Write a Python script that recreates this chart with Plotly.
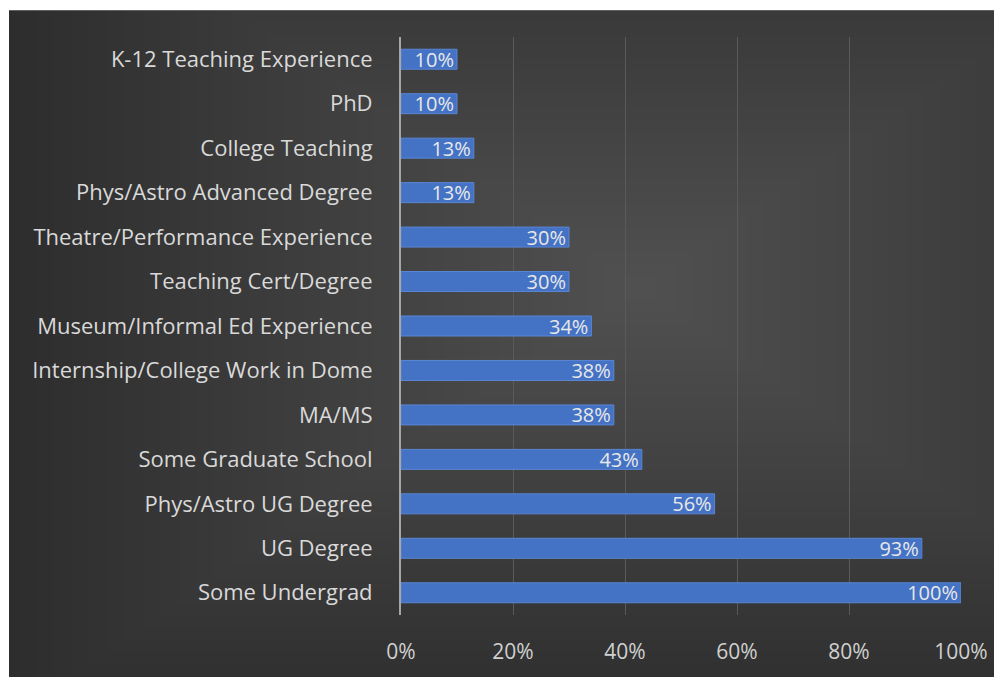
import plotly.graph_objects as go

categories = [
    "K-12 Teaching Experience",
    "PhD",
    "College Teaching",
    "Phys/Astro Advanced Degree",
    "Theatre/Performance Experience",
    "Teaching Cert/Degree",
    "Museum/Informal Ed Experience",
    "Internship/College Work in Dome",
    "MA/MS",
    "Some Graduate School",
    "Phys/Astro UG Degree",
    "UG Degree",
    "Some Undergrad",
]
values = [0.10, 0.10, 0.13, 0.13, 0.30, 0.30, 0.34, 0.38, 0.38, 0.43, 0.56, 0.93, 1.00]
tick_vals = [0, 0.2, 0.4, 0.6, 0.8, 1.0]
tick_text = ["0%", "20%", "40%", "60%", "80%", "100%"]

OFF = 8  # page body margin
W, H = 1002 - OFF, 677 - OFF
L, R, T, B = 401 - OFF, 1002 - 961, 37 - OFF, 677 - 620
pw, ph = W - L - R, H - T - B

def px_to_paper(x, y):
    # x, y given in reference screenshot pixels
    x -= OFF
    y -= OFF
    return (x - L) / pw, (H - B - y) / ph

fig = go.Figure()
fig.add_trace(go.Bar(
    y=categories,
    x=values,
    orientation="h",
    width=0.45,
    marker=dict(color="#4472c4", line=dict(color="#5a86d4", width=1)),
    text=[f"{round(v*100)}%" for v in values],
    textposition="inside",
    insidetextanchor="end",
    constraintext="none",
    cliponaxis=False,
    textfont=dict(family="Open Sans, sans-serif", size=20, color="#e8e8e8"),
    hoverinfo="skip",
))

shapes = []
# white strips at the very top / left of the reference
sx0, sy1 = px_to_paper(0, 0)
sx1, sy0 = px_to_paper(1010, 10)
shapes.append(dict(type="rect", xref="paper", yref="paper", x0=sx0 - 0.05, x1=sx1, y0=sy0, y1=sy1 + 0.05,
                   fillcolor="white", line=dict(width=0), layer="below"))
lx0, ly1 = px_to_paper(0, 0)
lx1, ly0 = px_to_paper(9, 690)
shapes.append(dict(type="rect", xref="paper", yref="paper", x0=lx0 - 0.05, x1=lx1, y0=ly0, y1=ly1 + 0.05,
                   fillcolor="white", line=dict(width=0), layer="below"))
cx, cy = 640, 290
n = 36
for i in range(n):
    f = 1 - i / n
    hw, hh = 640 * f, 440 * f
    ax0, ay1 = px_to_paper(max(9, cx - hw), max(10, cy - hh))
    ax1, ay0 = px_to_paper(min(1010, cx + hw), min(690, cy + hh))
    shapes.append(dict(type="rect", xref="paper", yref="paper", x0=ax0, x1=ax1, y0=ay0, y1=ay1,
                       fillcolor="rgba(255,255,255,0.0065)", line=dict(width=0), layer="below"))

fig.update_layout(
    width=W, height=H,
    margin=dict(l=L, r=R, t=T, b=B, pad=0),
    paper_bgcolor="#2c2c2c",
    plot_bgcolor="rgba(0,0,0,0)",
    showlegend=False,
    shapes=shapes,
    xaxis=dict(
        range=[0, 1.0],
        tickvals=tick_vals,
        ticktext=tick_text,
        showgrid=True,
        gridcolor="#5a5a5a",
        gridwidth=1,
        zeroline=False,
        showline=False,
        ticks="",
        ticklabelstandoff=22,
        tickfont=dict(family="Open Sans, sans-serif", size=21, color="#d0d0d0"),
        fixedrange=True,
    ),
    yaxis=dict(
        autorange="reversed",
        showgrid=False,
        showline=True,
        linecolor="#a6a6a6",
        linewidth=2,
        ticks="",
        ticklabelstandoff=22,
        tickfont=dict(family="Open Sans, sans-serif", size=22, color="#d9d9d9"),
        fixedrange=True,
    ),
)

fig.write_html("out.html")
